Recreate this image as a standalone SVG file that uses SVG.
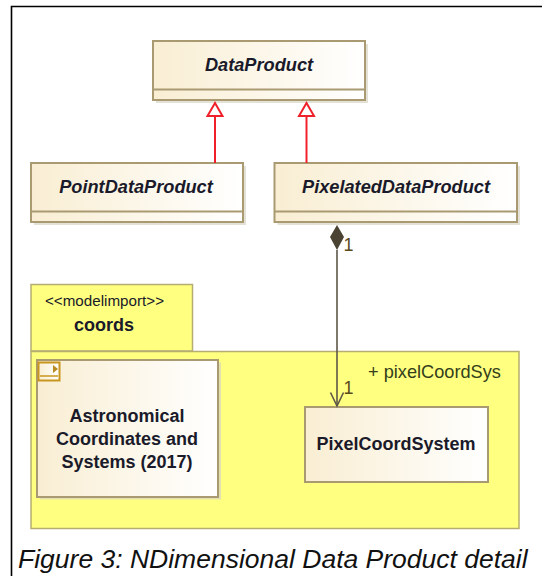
<svg xmlns="http://www.w3.org/2000/svg" width="542" height="576" viewBox="0 0 542 576">
<style>
text{font-family:"Liberation Sans",Arial,sans-serif;fill:#1a1a2a}
.cls{fill:url(#g);stroke:#a99a72;stroke-width:2}
.shadow{fill:#d8d4c4;opacity:.7}
.div{stroke:#a99a72;stroke-width:2;fill:none}
.name{font-size:18.2px;font-style:italic;font-weight:bold;text-anchor:middle}
.bold{font-size:18px;font-weight:bold;text-anchor:middle}
.pkg{fill:#ffff80;stroke:#b5ad72;stroke-width:1.5}
.red{stroke:#f0202a;stroke-width:2;fill:#fff}
.dark{stroke:#5e5748;stroke-width:1.6;fill:none}
.mult{font-size:18px;fill:#5a4a20}
</style>
<defs>
<linearGradient id="g" x1="0" y1="0" x2="1" y2="0"><stop offset="0" stop-color="#f9eed3"/><stop offset="1" stop-color="#ffffff"/></linearGradient>
</defs>
<rect width="542" height="576" fill="#fff"/>
<path d="M11.5 576V6.5H542" fill="none" stroke="#000" stroke-width="1.6"/>
<g id="node-coords">
<rect class="pkg" x="31" y="284.500" width="161.500" height="66.500"/>
<rect class="pkg" x="31" y="351.500" width="488" height="177"/>
<text x="104.500" y="306" font-size="15.200" text-anchor="middle">&lt;&lt;modelimport&gt;&gt;</text>
<text x="104" y="331" font-size="18" font-weight="bold" text-anchor="middle">coords</text>
<text x="368" y="378" font-size="18.200" style="fill:#33401a">+ pixelCoordSys</text>
</g>
<g id="node-astronomical">
<rect class="shadow" x="40" y="362.500" width="181" height="137"/>
<rect class="cls" x="37" y="360" width="181" height="137"/>
<rect x="38.500" y="362.500" width="21" height="18" fill="url(#g)" stroke="#c8961e" stroke-width="2"/>
<path d="M40 376H58" stroke="#c8961e" stroke-width="1.500" fill="none"/>
<path d="M53 365L58 369L53 373Z" fill="#b88a20"/>
<text class="bold" x="127" y="422">Astronomical</text>
<text class="bold" x="127" y="445">Coordinates and</text>
<text class="bold" x="127" y="468">Systems (2017)</text>
</g>
<g id="node-pixelcoordsystem">
<rect class="cls" x="305" y="407" width="183" height="75"/>
<text class="bold" x="396" y="450">PixelCoordSystem</text>
</g>
<g id="node-dataproduct">
<rect class="shadow" x="156" y="44" width="212" height="59"/>
<rect class="cls" x="153" y="41" width="212" height="59"/>
<path class="div" d="M153 89.500H365"/>
<text class="name" x="259" y="71">DataProduct</text>
</g>
<g id="node-pointdataproduct">
<rect class="shadow" x="34" y="166" width="212" height="59"/>
<rect class="cls" x="31" y="163" width="212" height="59"/>
<path class="div" d="M31 211.500H243"/>
<text class="name" x="136" y="193">PointDataProduct</text>
</g>
<g id="node-pixelateddataproduct">
<rect class="shadow" x="277.500" y="166" width="242.500" height="59"/>
<rect class="cls" x="274.500" y="163" width="242.500" height="59"/>
<path class="div" d="M274.500 211.500H517"/>
<text class="name" x="396" y="193">PixelatedDataProduct</text>
</g>
<g id="connectors">
<path class="red" d="M215 163V116"/>
<path class="red" d="M215 103L207.500 116H222.500Z"/>
<path class="red" d="M306.500 163V116"/>
<path class="red" d="M306.500 103L299 116H314Z"/>
<path class="dark" d="M337 250V406"/>
<path d="M337 225L344 237L337 250L330 237Z" fill="#4a4232"/>
<path class="dark" d="M330.500 392.500L337 406L343.500 392.500"/>
<text class="mult" x="343.500" y="251">1</text>
<text class="mult" x="343.500" y="394">1</text>
</g>
<text x="18" y="568" font-size="26.500" font-style="italic" style="fill:#111">Figure 3: NDimensional Data Product detail</text>
</svg>
